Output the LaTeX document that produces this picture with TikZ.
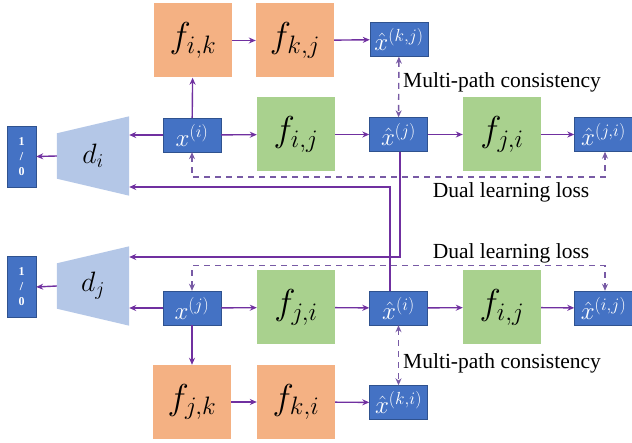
\RequirePackage{fix-cm}
\documentclass[tikz,border=0pt]{standalone}
\usepackage{fontspec}
\setmainfont{Liberation Serif}
\usetikzlibrary{arrows.meta}
\definecolor{boxblue}{RGB}{68,114,196}
\definecolor{boxline}{RGB}{47,82,143}
\definecolor{forange}{RGB}{244,177,131}
\definecolor{fgreen}{RGB}{169,209,142}
\definecolor{discblue}{RGB}{180,199,231}
\definecolor{arrowpurple}{RGB}{112,48,160}
\definecolor{losspurple}{RGB}{120,90,165}
\tikzset{
  xbox/.style={draw=boxline,fill=boxblue,text=white,minimum width=58pt,
    minimum height=34pt,inner sep=0pt,font=\fontsize{25}{28}\selectfont},
  fnode/.style={minimum width=78pt,minimum height=74pt,inner sep=0pt,
    font=\fontsize{36}{40}\selectfont},
  fo/.style={fnode,fill=forange},
  fg/.style={fnode,fill=fgreen},
  decide/.style={draw=boxline,fill=boxblue,text=white,minimum width=29pt,
    minimum height=61pt,inner sep=0pt,align=center,
    font=\fontsize{12}{15}\selectfont\bfseries},
  discarea/.style={minimum width=72pt,minimum height=79pt,inner sep=0pt},
  flow/.style={->,draw=arrowpurple,line width=1.4pt},
  loss/.style={<->,draw=losspurple,line width=1.4pt,dashed,dash pattern=on 6pt off 5pt},
  lbl/.style={font=\fontsize{21.5}{24}\selectfont,inner sep=0pt}
}
\begin{document}
\begin{tikzpicture}[x=1pt,y=-1pt,>={Stealth[length=7pt,width=6pt]}]
\useasboundingbox (0,0) rectangle (632,443);
% upper part: domain i
\node[decide] (outi) at (21.5,156.5) {1\\/\\0};
\node[discarea] (di) at (93,156) {};
\fill[discblue] (di.north east) -- (di.south east)
  -- ([yshift=17pt]di.south west) -- ([yshift=-17pt]di.north west) -- cycle;
\node[font=\fontsize{28}{30}\selectfont] at (di) {$d_i$};
\node[xbox] (xi)   at (192,135)   {$x^{(i)}$};
\node[fg]   (fij)  at (296,134.5) {$f_{i,j}$};
\node[xbox] (xhj)  at (398.5,134.5) {$\hat{x}^{(j)}$};
\node[fg]   (fji)  at (502,134.5) {$f_{j,i}$};
\node[xbox] (xhji) at (603.5,134.5) {$\hat{x}^{(j,i)}$};
\node[fo]   (fik)  at (193,40.5)  {$f_{i,k}$};
\node[fo]   (fkj)  at (295,40.5)  {$f_{k,j}$};
\node[xbox] (xhkj) at (399,39.5)  {$\hat{x}^{(k,j)}$};
% lower part: domain j
\node[decide] (outj) at (21.5,287) {1\\/\\0};
\node[discarea] (dj) at (93,286) {};
\fill[discblue] (dj.north east) -- (dj.south east)
  -- ([yshift=17pt]dj.south west) -- ([yshift=-17pt]dj.north west) -- cycle;
\node[font=\fontsize{28}{30}\selectfont] at (dj) {$d_j$};
\node[xbox] (xj)   at (192,308)   {$x^{(j)}$};
\node[fg]   (fji2) at (296,307.5) {$f_{j,i}$};
\node[xbox] (xhi)  at (398.5,308) {$\hat{x}^{(i)}$};
\node[fg]   (fij2) at (502,307.5) {$f_{i,j}$};
\node[xbox] (xhij) at (603.5,308) {$\hat{x}^{(i,j)}$};
\node[fo]   (fjk)  at (192,402)   {$f_{j,k}$};
\node[fo]   (fki)  at (296,402)   {$f_{k,i}$};
\node[xbox] (xhki) at (398.5,402.5) {$\hat{x}^{(k,i)}$};
% translations
\draw[flow] (xi) -- (fij);
\draw[flow] (fij) -- (xhj);
\draw[flow] (xhj) -- (fji);
\draw[flow] (fji) -- (xhji);
\draw[flow] (xi) -- (fik);
\draw[flow] (fik) -- (fkj);
\draw[flow] (fkj) -- (xhkj);
\draw[flow] (xj) -- (fji2);
\draw[flow] (fji2) -- (xhi);
\draw[flow] (xhi) -- (fij2);
\draw[flow] (fij2) -- (xhij);
\draw[flow] (xj) -- (fjk);
\draw[flow] (fjk) -- (fki);
\draw[flow] (fki) -- (xhki);
% discriminators
\draw[flow] (xi.west) -- (xi.west -| di.east);
\draw[flow] (di.west) -- (outi.east);
\draw[flow] (xj.west) -- (xj.west -| dj.east);
\draw[flow] (dj.west) -- (outj.east);
\draw[flow] ([xshift=1.5pt]xhj.south) |- ([yshift=29pt]dj.east);
\draw[flow] ([xshift=-8.5pt]xhi.north) |- ([yshift=-31pt]di.east);
% losses
\draw[loss] (xhkj) -- (xhj);
\draw[loss] (xhi) -- (xhki);
\draw[loss] (xi.south) -- ([yshift=-25pt]xi.south) -| ([xshift=1.5pt]xhji.south);
\draw[loss] (xj.north) -- ([yshift=25pt]xj.north) -| ([xshift=1.5pt]xhij.north);
\node[lbl,anchor=west] (mpc1) at (403,82)  {Multi-path consistency};
\node[lbl] (dll1) at (511,192) {Dual learning loss};
\node[lbl] (dll2) at (511,253) {Dual learning loss};
\node[lbl,anchor=west] (mpc2) at (403,363) {Multi-path consistency};
\end{tikzpicture}
\end{document}
